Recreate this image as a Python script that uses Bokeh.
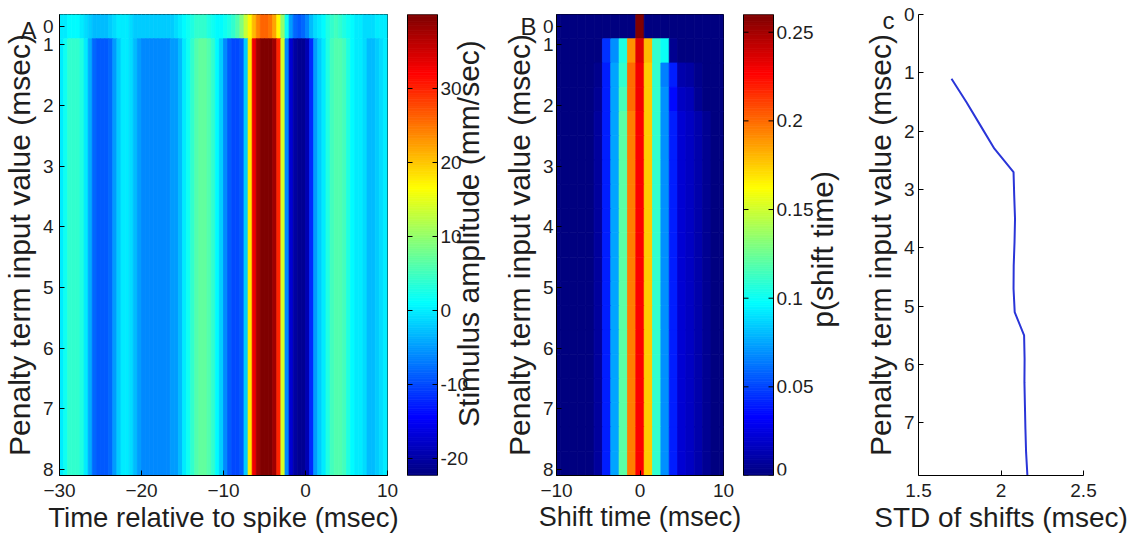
import numpy as np
from bokeh.plotting import figure
from bokeh.layouts import row
from bokeh.models import (Range1d, FixedTicker, LinearAxis,
                          ColumnDataSource, LinearColorMapper)
from bokeh.core.properties import value
from bokeh.transform import transform
from bokeh.embed import file_html
from bokeh.resources import INLINE

# ---------------- data ----------------
# penalty term input values (msec) of the shifted rows; row "0" = raw STA
penalty_ms = [1.1, 1.5, 1.9, 2.3, 2.7, 3.1, 3.5, 3.9, 4.3, 4.7,
              5.1, 5.5, 5.9, 6.3, 6.7, 7.1, 7.5, 7.9]
raw_row_pos = 0.7          # where the unshifted ("0") row is shown
raw_row_label = "0"

# Panel A: stimulus amplitude (mm/sec), 0.5 ms bins from -30 to 10 ms
stim_bin_ms = 0.5
stim_time_ms = np.arange(-30 + stim_bin_ms / 2, 10, stim_bin_ms)
stim_raw = [0, 0, 1, 1, 1, 0, -1, -2,
            -3, -3, -3, -3, -2, -1, 0, 0,
            0, -1, -2, -2, -2, -2, -2, -2,
            -2, -2, -2, -2, -1, 0, 1, 2,
            3, 4, 4, 4, 3, 2, 1, 1,
            2, 3, 4, 6, 9, 13, 17, 21,
            24, 26, 26, 25, 22, 17, 10, 2,
            -5, -8, -9, -8, -6, -3, -1, 0,
            1, 3, 4, 5, 4, 3, 2, 1,
            0, 0, -1, -1, -1, 0, 0, 0]
stim_aligned = [0, 2, 4, 4, 4, 3, 0, -4,
                -8, -9, -9, -9, -8, -5, -2, 0,
                0, -1, -3, -5, -6, -6, -6, -6,
                -6, -6, -6, -5, -5, -3, 0, 2,
                4, 6, 7, 7, 6, 4, 1, -2,
                -6, -9, -10, -10, -9, -2, 18, 33,
                38, 40, 40, 40, 38, 30, 14, -6,
                -17, -20, -21, -21, -19, -12, -5, -2,
                0, 3, 5, 6, 6, 5, 3, 1,
                0, 0, -1, -3, -3, -2, -1, 0]
stim_cbar_range = (-22.3, 40.0)
stim_cbar_ticks = [-20, -10, 0, 10, 20, 30]
stim_cbar_tick_labels = ["-20", "-10", "0", "10", "20", "30"]

# Panel B: p(shift time), 1 ms bins from -10 to 10 ms
shift_ms = [-10, -9, -8, -7, -6, -5, -4, -3, -2, -1, 0,
            1, 2, 3, 4, 5, 6, 7, 8, 9, 10]
p_raw = [0, 0, 0, 0, 0, 0, 0, 0, 0, 0, 1.0,
         0, 0, 0, 0, 0, 0, 0, 0, 0, 0]
p_pen_1p1 = [0, 0, 0, 0, 0, 0, 0.045, 0.07, 0.105, 0.19, 0.235,
             0.18, 0.11, 0.1, 0.005, 0, 0, 0, 0, 0, 0]
p_pen_1p5 = [0, 0, 0, 0, 0, 0.004, 0.04, 0.075, 0.11, 0.2, 0.23,
             0.175, 0.11, 0.065, 0.04, 0.012, 0.01, 0.004, 0, 0, 0]
p_pen_1p9 = [0, 0, 0, 0, 0, 0.006, 0.04, 0.075, 0.115, 0.2, 0.23,
             0.175, 0.11, 0.07, 0.035, 0.018, 0.015, 0.006, 0, 0, 0]
p_pen_rest = [0, 0, 0, 0, 0, 0.008, 0.04, 0.075, 0.12, 0.195, 0.228,
              0.175, 0.11, 0.07, 0.04, 0.022, 0.018, 0.012, 0.006, 0, 0]
p_cbar_range = (0.0, 0.26)
p_cbar_ticks = [0, 0.05, 0.1, 0.15, 0.2, 0.25]
p_cbar_tick_labels = ["0", "0.05", "0.1", "0.15", "0.2", "0.25"]

# Panel C: STD of shifts (msec) for each penalty value
std_shift_ms = [1.70, 1.79, 1.875, 1.96, 2.076, 2.08, 2.085, 2.082, 2.077,
                2.076, 2.083, 2.14, 2.143, 2.142, 2.145, 2.148, 2.152, 2.16]

# text
xlabels = ["Time relative to spike (msec)", "Shift time (msec)", "STD of shifts (msec)"]
ylabel = "Penalty term input value (msec)"
cbar_labels = ["Stimulus amplitude (mm/sec)", "p(shift time)"]
panel_letters = ["A", "B", "c"]

# ---------------- style ----------------
FONT = "Liberation Sans"
TXT = "#1e1e1e"
H = 541
TOP = 14
BOTTOM = 66
TICK_FS = "19px"
YLAB_FS = "30px"
LETTER_FS = "24px"
CB_W = 30.0          # colour-bar width in px


def jet(n=256):
    out = []
    for i in range(n):
        t = i / (n - 1)
        r = min(max(1.5 - abs(4 * t - 3), 0), 1)
        g = min(max(1.5 - abs(4 * t - 2), 0), 1)
        b = min(max(1.5 - abs(4 * t - 1), 0), 1)
        out.append("#%02x%02x%02x" % (round(r * 255), round(g * 255), round(b * 255)))
    return out


JET = jet(256)


def base_fig(width, left, right, xr, yr, x_loc="below", y_loc="left"):
    p = figure(width=width, height=H, x_range=xr, y_range=yr,
               output_backend="svg", toolbar_location=None,
               min_border_left=left, min_border_right=right,
               min_border_top=TOP, min_border_bottom=BOTTOM,
               x_axis_location=x_loc, y_axis_location=y_loc)
    p.xgrid.visible = False
    p.ygrid.visible = False
    p.outline_line_color = "black"
    p.outline_line_width = 1
    p.background_fill_color = "white"
    p.border_fill_color = "white"
    return p


def style_axis(ax, standoff=5, label_standoff=0, lab_fs=YLAB_FS):
    ax.major_label_text_font = FONT
    ax.major_label_text_font_size = TICK_FS
    ax.major_label_text_color = TXT
    ax.axis_label_text_font = FONT
    ax.axis_label_text_font_size = lab_fs
    ax.axis_label_text_font_style = "normal"
    ax.axis_label_text_color = TXT
    ax.major_tick_in = 5
    ax.major_tick_out = 0
    ax.major_tick_line_color = "black"
    ax.minor_tick_line_color = None
    ax.axis_line_color = "black"
    ax.major_label_standoff = standoff
    ax.axis_label_standoff = label_standoff


def outer_left_axis(p, letter, letter_pos, standoff, label_standoff):
    """Second left axis: carries the panel letter (as its only tick label)
    and the y-axis title, which overlaps the letter's column as in the original."""
    ax = LinearAxis(ticker=FixedTicker(ticks=[letter_pos]),
                    major_label_overrides={letter_pos: letter},
                    axis_label=ylabel)
    style_axis(ax, standoff=standoff, label_standoff=label_standoff)
    ax.major_label_text_font_size = LETTER_FS
    ax.axis_line_color = None
    ax.major_tick_line_color = None
    ax.major_tick_in = 0
    p.add_layout(ax, "left")


row_h = penalty_ms[1] - penalty_ms[0]
y_lo = raw_row_pos - row_h / 2
y_hi = penalty_ms[-1] + row_h / 2
y_ticks = [raw_row_pos] + list(range(1, 9))
y_over = {raw_row_pos: raw_row_label}
for k in range(1, 9):
    y_over[k] = str(k)

# ---------------- Panel A ----------------
mapA = LinearColorMapper(palette=JET, low=stim_cbar_range[0], high=stim_cbar_range[1])
pA = base_fig(402, 55, 15, Range1d(-30, 10), Range1d(y_hi, y_lo))
left = list(stim_time_ms - stim_bin_ms / 2)
right = list(stim_time_ms + stim_bin_ms / 2)
n = len(stim_time_ms)
srcA = ColumnDataSource(dict(
    left=left + left, right=right + right,
    top=[y_lo] * n + [penalty_ms[0] - row_h / 2] * n,
    bottom=[raw_row_pos + row_h / 2] * n + [y_hi] * n,
    v=list(stim_raw) + list(stim_aligned)))
pA.quad(left="left", right="right", top="top", bottom="bottom", source=srcA,
        fill_color=transform("v", mapA), line_color=transform("v", mapA), line_width=0.8)
pA.xaxis.ticker = FixedTicker(ticks=[-30, -20, -10, 0, 10])
pA.xaxis.axis_label = xlabels[0]
pA.yaxis.ticker = FixedTicker(ticks=y_ticks)
pA.yaxis.major_label_overrides = y_over
for ax in pA.xaxis:
    style_axis(ax, standoff=8, label_standoff=2, lab_fs="27.5px")
for ax in pA.yaxis:
    style_axis(ax, standoff=6)
outer_left_axis(pA, panel_letters[0], 0.76, standoff=3, label_standoff=-19)


# ---------------- colour bars (bar, ticks, labels and title inside one frame) ----------
def cbar_fig(width, left_border, pad_px, rng, ticks, tick_labels, title, title_x_px, title_y):
    frame_w = width - left_border
    x0 = -pad_px / CB_W
    c = figure(width=width, height=H, x_range=Range1d(x0, x0 + frame_w / CB_W),
               y_range=Range1d(rng[0], rng[1]), output_backend="svg",
               toolbar_location=None, min_border_left=left_border, min_border_right=0,
               min_border_top=TOP, min_border_bottom=BOTTOM,
               x_axis_location=None, y_axis_location=None)
    c.outline_line_color = None
    c.xgrid.visible = False
    c.ygrid.visible = False
    c.background_fill_color = "white"
    c.border_fill_color = "white"
    nb = len(JET)
    step = (rng[1] - rng[0]) / nb
    src = ColumnDataSource(dict(
        bottom=[rng[0] + i * step for i in range(nb)],
        top=[rng[0] + (i + 1) * step for i in range(nb)],
        c=JET))
    c.quad(left=0, right=1, bottom="bottom", top="top", source=src,
           fill_color="c", line_color="c", line_width=0.8)
    c.quad(left=0, right=1, bottom=rng[0], top=rng[1], fill_color=None,
           line_color="black", line_width=1)
    tk = 5 / CB_W
    c.segment(x0=[0] * len(ticks), x1=[tk] * len(ticks), y0=ticks, y1=ticks,
              line_color="black", line_width=1)
    c.segment(x0=[1 - tk] * len(ticks), x1=[1] * len(ticks), y0=ticks, y1=ticks,
              line_color="black", line_width=1)
    # tick labels; one sitting on the frame's lower edge is lifted so it is not clipped
    inner = [(t, s) for t, s in zip(ticks, tick_labels) if t > rng[0]]
    edge = [(t, s) for t, s in zip(ticks, tick_labels) if t <= rng[0]]
    for group, base in ((inner, "middle"), (edge, "bottom")):
        if group:
            c.text(x=[1 + 3 / CB_W] * len(group), y=[g[0] for g in group],
                   text=[g[1] for g in group],
                   text_font=value(FONT), text_font_size=value(TICK_FS), text_color=TXT,
                   text_align="left", text_baseline=base)
    c.text(x=[title_x_px / CB_W], y=[title_y], text=[title], angle=np.pi / 2,
           text_font=value(FONT), text_font_size=value(YLAB_FS), text_color=TXT,
           text_align="center", text_baseline="middle")
    return c


cA = cbar_fig(98, 2, 3, stim_cbar_range, stim_cbar_ticks, stim_cbar_tick_labels,
              cbar_labels[0], 61, 10.4)

# ---------------- Panel B ----------------
mapB = LinearColorMapper(palette=JET, low=p_cbar_range[0], high=p_cbar_range[1])
pB = base_fig(242, 56, 19, Range1d(-10, 10), Range1d(y_hi, y_lo))
rows_vals = [p_raw, p_pen_1p1, p_pen_1p5, p_pen_1p9] + [p_pen_rest] * (len(penalty_ms) - 3)
rows_pos = [raw_row_pos] + penalty_ms
L, R, T, B, V = [], [], [], [], []
for pos, vals in zip(rows_pos, rows_vals):
    for s, v in zip(shift_ms, vals):
        L.append(s - 0.5); R.append(s + 0.5)
        T.append(pos - row_h / 2); B.append(pos + row_h / 2)
        V.append(v)
srcB = ColumnDataSource(dict(left=L, right=R, top=T, bottom=B, v=V))
pB.quad(left="left", right="right", top="top", bottom="bottom", source=srcB,
        fill_color=transform("v", mapB), line_color=transform("v", mapB), line_width=0.8)
pB.xaxis.ticker = FixedTicker(ticks=[-10, 0, 10])
pB.xaxis.axis_label = xlabels[1]
pB.yaxis.ticker = FixedTicker(ticks=y_ticks)
pB.yaxis.major_label_overrides = y_over
for ax in pB.xaxis:
    style_axis(ax, standoff=8, label_standoff=2, lab_fs="27px")
for ax in pB.yaxis:
    style_axis(ax, standoff=3)
outer_left_axis(pB, panel_letters[1], 0.70, standoff=3, label_standoff=-19)

cB = cbar_fig(118, 0, 1, p_cbar_range, p_cbar_ticks, p_cbar_tick_labels,
              cbar_labels[1], 79, 0.1275)

# ---------------- Panel C ----------------
pC = base_fig(280, 58, 57, Range1d(1.5, 2.5), Range1d(penalty_ms[-1], 0))
pC.outline_line_color = None
pC.line(std_shift_ms, penalty_ms, line_color="#2a35d8", line_width=2)
pC.xaxis.ticker = FixedTicker(ticks=[1.5, 2, 2.5])
pC.xaxis.major_label_overrides = {1.5: "1.5", 2: "2", 2.5: "2.5"}
pC.xaxis.axis_label = xlabels[2]
pC.yaxis.ticker = FixedTicker(ticks=list(range(0, 8)))
for ax in pC.xaxis:
    style_axis(ax, standoff=8, label_standoff=2, lab_fs="28px")
for ax in pC.yaxis:
    style_axis(ax, standoff=4)
outer_left_axis(pC, panel_letters[2], 0.10, standoff=6, label_standoff=-17)

layout = row(pA, cA, pB, cB, pC)
open("out.html", "w").write(file_html(layout, INLINE, "Figure"))
